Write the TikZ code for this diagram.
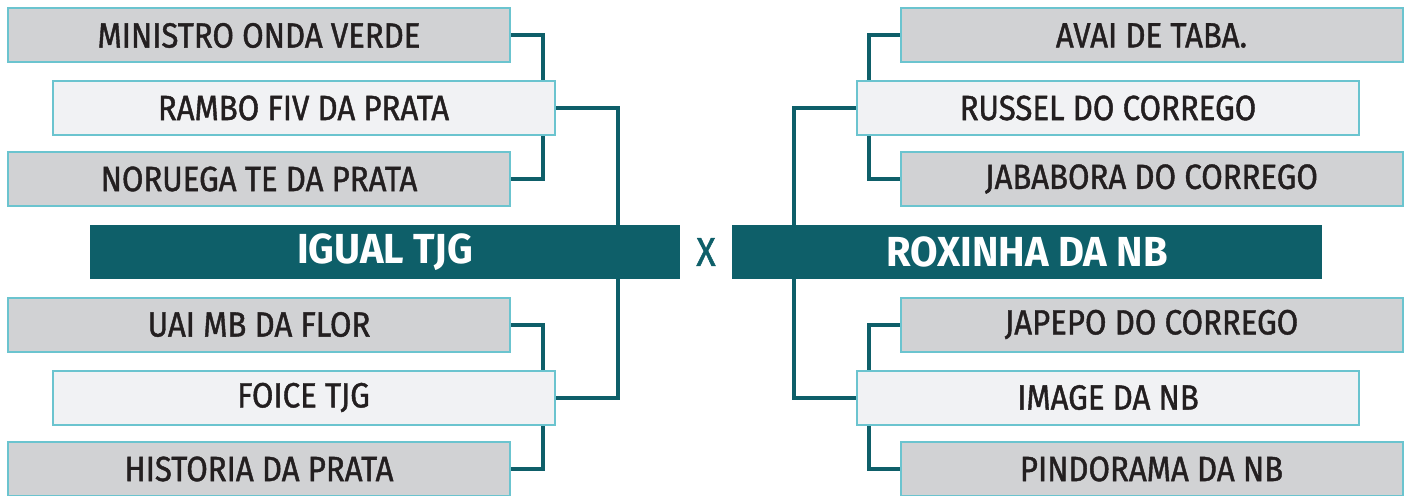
\documentclass[tikz,border=0pt]{standalone}
\usepackage{fontspec}
\setmainfont{Fira Sans}[FakeStretch=0.89,FakeBold=1.2]
\newfontfamily\headfont{Fira Sans}[FakeStretch=0.95]
\usetikzlibrary{backgrounds}
\definecolor{teal}{HTML}{0E5F69}
\definecolor{boxgray}{HTML}{D1D2D4}
\definecolor{boxlight}{HTML}{F1F2F4}
\definecolor{boxedge}{HTML}{6BC4CF}
\definecolor{txt}{HTML}{231F20}
\begin{document}
\begin{tikzpicture}[x=1pt,y=-1pt,
  entry/.style={draw=boxedge,line width=2pt,fill=boxgray,minimum width=502pt,minimum height=54pt,inner sep=0pt,text=txt,font=\fontsize{35}{35}\selectfont},
  winner/.style={entry,fill=boxlight},
  finalist/.style={fill=teal,minimum width=590pt,minimum height=54pt,inner sep=0pt,text=white,font=\fontsize{42}{42}\headfont\bfseries},
  link/.style={draw=teal,line width=4pt}]
\useasboundingbox (0,0) rectangle (1410,495);
% left
\node[entry]  (m)  at (259,35.5) {MINISTRO ONDA VERDE};
\node[winner] (r)  at (303.5,108) {RAMBO FIV DA PRATA};
\node[entry]  (n)  at (259,179) {NORUEGA TE DA PRATA};
\node[finalist] (ig) at (385,252) {IGUAL TJG};
\node[entry]  (u)  at (259,324.5) {UAI MB DA FLOR};
\node[winner] (f)  at (303.5,397.5) {FOICE TJG};
\node[entry]  (h)  at (259,469) {HISTORIA DA PRATA};
% centre
\node[text=teal,font=\fontsize{40}{40}\selectfont] (x) at (706,252) {X};
% right
\node[entry]  (a)  at (1151.5,35.5) {AVAI DE TABA.};
\node[winner] (ru) at (1108,108) {RUSSEL DO CORREGO};
\node[entry]  (j)  at (1151.5,179) {JABABORA DO CORREGO};
\node[finalist] (ro) at (1027,252) {ROXINHA DA NB};
\node[entry]  (jp) at (1151.5,324.5) {JAPEPO DO CORREGO};
\node[winner] (im) at (1108,397.5) {IMAGE DA NB};
\node[entry]  (p)  at (1151.5,469) {PINDORAMA DA NB};
% vertical lines
\coordinate (lv) at (543,0);
\coordinate (lf) at (618,0);
\coordinate (rv) at (869,0);
\coordinate (rf) at (794,0);
\begin{scope}[on background layer]
\draw[link] (m.east) -| (lv |- r.north);
\draw[link] (n.east) -| (lv |- r.south);
\draw[link] (u.east) -| (lv |- f.north);
\draw[link] (h.east) -| (lv |- f.south);
\draw[link] (r.east) -| (lf |- ig.north);
\draw[link] (f.east) -| (lf |- ig.south);
\draw[link] (a.west) -| (rv |- ru.north);
\draw[link] (j.west) -| (rv |- ru.south);
\draw[link] (jp.west) -| (rv |- im.north);
\draw[link] (p.west) -| (rv |- im.south);
\draw[link] (ru.west) -| (rf |- ro.north);
\draw[link] (im.west) -| (rf |- ro.south);
\end{scope}
\end{tikzpicture}
\end{document}
